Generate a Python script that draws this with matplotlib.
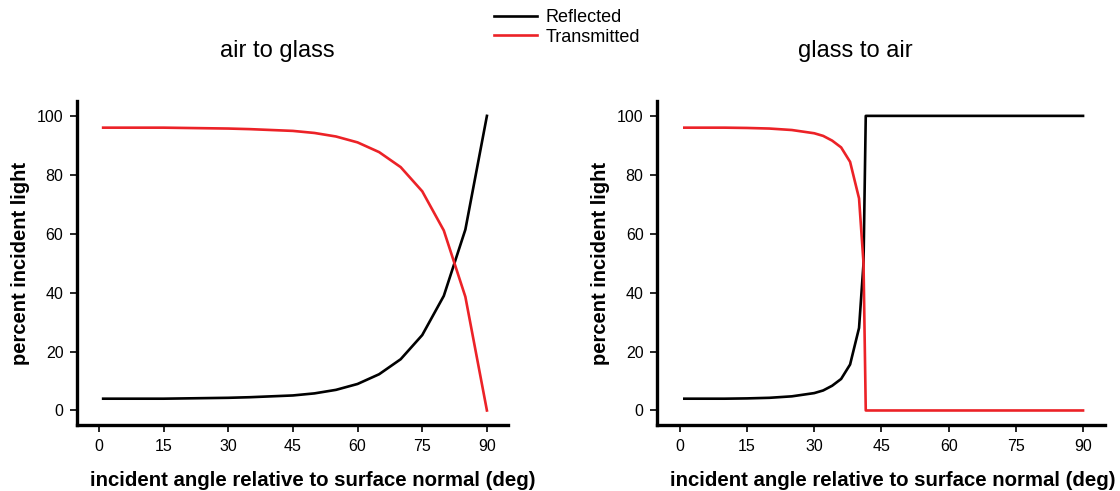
import matplotlib
matplotlib.use('Agg')
import matplotlib.pyplot as plt
import matplotlib.ticker as ticker

plt.rcParams['font.family'] = ['Liberation Sans', 'DejaVu Sans']

RED = '#ec2227'

# air to glass
ag_angle = [1, 5, 10, 15, 20, 25, 30, 35, 40, 45, 50, 55, 60, 65, 70, 75, 80, 85, 90]
ag_reflected = [4.0, 4.0, 4.0, 4.0, 4.1, 4.2, 4.3, 4.5, 4.8, 5.1, 5.8, 7.0, 9.0,
                12.3, 17.4, 25.6, 38.9, 61.4, 100]
ag_transmitted = [96.0, 96.0, 96.0, 96.0, 95.9, 95.8, 95.7, 95.5, 95.2, 94.9, 94.2,
                  93.0, 91.0, 87.7, 82.6, 74.4, 61.1, 38.6, 0]

# glass to air
ga_angle = [1, 5, 10, 15, 20, 25, 30, 32, 34, 36, 38, 40, 41, 41.5, 45, 60, 75, 90]
ga_reflected = [4.0, 4.0, 4.0, 4.1, 4.3, 4.8, 5.9, 6.8, 8.4, 10.7, 15.6, 28.0,
                50.0, 100, 100, 100, 100, 100]
ga_transmitted = [96.0, 96.0, 96.0, 95.9, 95.7, 95.2, 94.1, 93.2, 91.6, 89.3, 84.4,
                  72.0, 50.0, 0, 0, 0, 0, 0]

x_ticks = [0, 15, 30, 45, 60, 75, 90]
y_ticks = [0, 20, 40, 60, 80, 100]


def style_axis(ax, title, title_x, xlabel_x):
    ax.set_xlim(-5, 95)
    ax.set_ylim(-5, 105)
    ax.xaxis.set_major_locator(ticker.FixedLocator(x_ticks))
    ax.yaxis.set_major_locator(ticker.FixedLocator(y_ticks))
    for side in ('top', 'right'):
        ax.spines[side].set_visible(False)
    for side in ('left', 'bottom'):
        ax.spines[side].set_linewidth(2.4)
    ax.tick_params(direction='out', length=5, width=1.2, labelsize=11.5, pad=5)
    ax.set_xlabel('incident angle relative to surface normal (deg)',
                  fontsize=14.7, fontweight='bold', labelpad=12, x=xlabel_x)
    ax.set_ylabel('percent incident light', fontsize=14.5, fontweight='bold',
                  labelpad=5)
    ax.set_title(title, fontsize=17, pad=32, x=title_x)


fig = plt.figure(figsize=(11.2, 4.91), dpi=100)
ax1 = fig.add_axes([0.069, 0.134, 0.385, 0.66])
ax2 = fig.add_axes([0.587, 0.134, 0.400, 0.66])

ax1.plot(ag_angle, ag_reflected, color='black', lw=1.9, label='Reflected')
ax1.plot(ag_angle, ag_transmitted, color=RED, lw=1.9, label='Transmitted')
style_axis(ax1, 'air to glass', 0.463, 0.546)

ax2.plot(ga_angle, ga_reflected, color='black', lw=1.9)
ax2.plot(ga_angle, ga_transmitted, color=RED, lw=1.9)
style_axis(ax2, 'glass to air', 0.442, 0.525)

fig.legend(loc='upper center', bbox_to_anchor=(0.506, 1.015), frameon=False,
           fontsize=13, handlelength=2.4, labelspacing=0.15, handletextpad=0.45)

fig.savefig('out.png', dpi=100)
